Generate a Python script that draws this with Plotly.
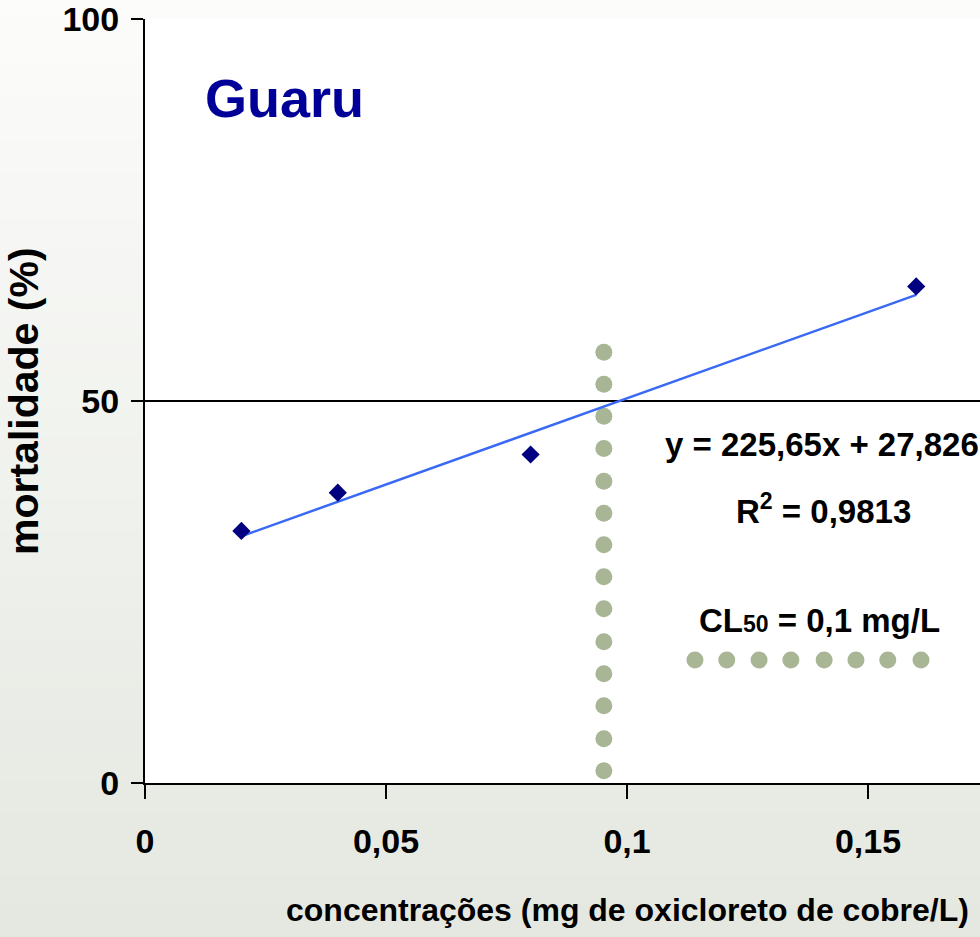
import plotly.graph_objects as go

# ---- data ----
conc = [0.02, 0.04, 0.08, 0.16]
mort = [33.0, 38.0, 43.0, 65.0]
trend_x = [0.02, 0.16]
trend_y = [32.3, 63.9]
cl50_vx = [0.0952] * 14
cl50_vy = [56.4, 52.2, 48.0, 43.8, 39.5, 35.3, 31.2, 27.0, 22.8, 18.5, 14.3, 10.1, 5.8, 1.6]
cl50_hx = [0.1141, 0.1207, 0.1274, 0.1340, 0.1409, 0.1475, 0.1541, 0.1610]
cl50_hy = [16.1] * 8
x_tickvals = [0, 0.05, 0.1, 0.15]
x_ticktext = ["0", "0,05", "0,1", "0,15"]
y_tickvals = [0, 50, 100]
y_ticktext = ["0", "50", "100"]

FONT = "Liberation Sans, Arial, sans-serif"
DOT = "#a8b695"

fig = go.Figure()
fig.add_trace(go.Scatter(x=cl50_vx, y=cl50_vy, mode="markers",
                         marker=dict(size=17, color=DOT), hoverinfo="skip"))
fig.add_trace(go.Scatter(x=cl50_hx, y=cl50_hy, mode="markers",
                         marker=dict(size=17, color=DOT), hoverinfo="skip"))
fig.add_trace(go.Scatter(x=trend_x, y=trend_y, mode="lines",
                         line=dict(color="#3a6af5", width=2.5)))
fig.add_trace(go.Scatter(x=conc, y=mort, mode="markers",
                         marker=dict(symbol="diamond", size=14, color="#000080")))

# gradient page background (strips), then white plot area
H, W = 937, 980
mt, mb, ml = 19, 154, 145
ph, pw = H - mt - mb, W - ml
shapes = []
n = 60
top_c = (252, 252, 251)
bot_c = (228, 232, 224)
for i in range(n):
    t0 = i / n
    t1 = (i + 1) / n
    f = (i + 0.5) / n
    c = tuple(round(top_c[k] + (bot_c[k] - top_c[k]) * f) for k in range(3))
    y_top_px = t0 * H
    y_bot_px = t1 * H + 1
    shapes.append(dict(type="rect", xref="paper", yref="paper", layer="below",
                       x0=-ml / pw, x1=1.0,
                       y0=(H - mb - y_bot_px) / ph, y1=(H - mb - y_top_px) / ph,
                       fillcolor="rgb(%d,%d,%d)" % c, line=dict(width=0)))
shapes.append(dict(type="rect", xref="paper", yref="paper", layer="below",
                   x0=0, x1=1, y0=0, y1=1, fillcolor="white", line=dict(width=0)))

annotations = [
    dict(x=0.029, y=89.7, xref="x", yref="y", text="<b>Guaru</b>", showarrow=False,
         font=dict(family=FONT, size=54, color="#000099")),
    dict(x=0.1405, y=44.3, xref="x", yref="y", text="<b>y = 225,65x + 27,826</b>",
         showarrow=False, font=dict(family=FONT, size=33, color="black")),
    dict(x=0.1407, y=35.9, xref="x", yref="y", text="<b>R<sup>2</sup> = 0,9813</b>",
         showarrow=False, font=dict(family=FONT, size=33, color="black")),
    dict(x=0.1400, y=21.3, xref="x", yref="y",
         text="<b>CL<span style='font-size:23px'>50</span> = 0,1 mg/L</b>",
         showarrow=False, font=dict(family=FONT, size=33, color="black")),
    dict(x=0.1, y=-(930 - 783) / ph, xref="x", yref="paper",
         text="<b>concentrações (mg de oxicloreto de cobre/L)</b>", showarrow=False,
         font=dict(family=FONT, size=32, color="black")),
    dict(x=(-1 - ml) / pw, y=0.5, xref="paper", yref="paper", textangle=-90,
         text="<b>mortalidade (%)</b>", showarrow=False,
         font=dict(family=FONT, size=41, color="black")),
]

fig.update_layout(
    width=W, height=H,
    margin=dict(l=ml, r=0, t=mt, b=mb, pad=0),
    paper_bgcolor="white", plot_bgcolor="white",
    showlegend=False, shapes=shapes, annotations=annotations,
    xaxis=dict(range=[0, (W - ml) / 4820], tickvals=x_tickvals, ticktext=x_ticktext,
               showgrid=False, zeroline=False, showline=True, linecolor="black",
               linewidth=2, ticks="outside", ticklen=14, tickwidth=2, tickcolor="black",
               ticklabelstandoff=13, ticklabeloverflow="allow",
               tickfont=dict(family=FONT, size=34, color="black", weight="bold")),
    yaxis=dict(range=[0, 100.01], tickvals=y_tickvals, ticktext=y_ticktext,
               showgrid=True, gridcolor="black", gridwidth=2, zeroline=False,
               showline=True, linecolor="black", linewidth=2, ticks="outside",
               ticklen=12, tickwidth=2, tickcolor="black", ticklabelstandoff=5,
               ticklabeloverflow="allow",
               tickfont=dict(family=FONT, size=34, color="black", weight="bold")),
)

fig.write_html("out.html")
